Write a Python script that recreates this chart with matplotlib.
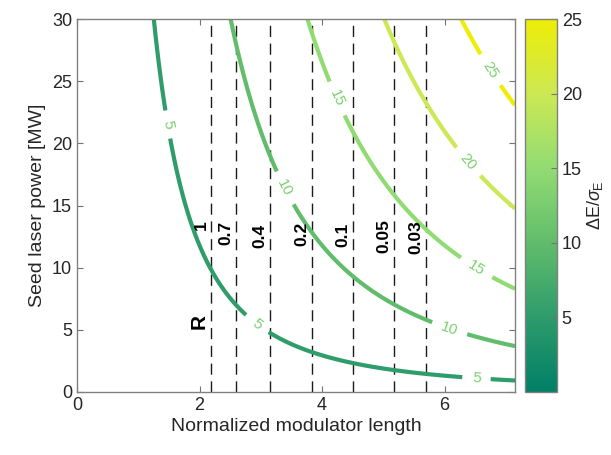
import numpy as np
import matplotlib
matplotlib.use("Agg")
import matplotlib.pyplot as plt
from matplotlib.colors import Normalize, LinearSegmentedColormap
from matplotlib.cm import ScalarMappable

plt.rcParams['font.family'] = ['Liberation Sans', 'DejaVu Sans']
plt.rcParams['mathtext.fontset'] = 'custom'
plt.rcParams['mathtext.rm'] = 'Liberation Sans'
plt.rcParams['mathtext.it'] = 'Liberation Sans:italic'

# Parameter ranges
length_max = 7.15          # normalized modulator length
power_max = 30.0           # seed laser power [MW]
gain_coeff = 0.728         # dE/sigma_E per (unit length * sqrt(MW))

# Contour levels of dE/sigma_E
levels = [5, 10, 15, 20, 25]
color_range = (0, 25)

# Reflectivity R markers along the modulator length
r_labels = ['1', '0.7', '0.4', '0.2', '0.1', '0.05', '0.03']
r_lengths = [2.19, 2.59, 3.15, 3.83, 4.50, 5.17, 5.70]
r_label_y = [13.4, 12.76, 12.56, 12.7, 12.63, 12.55, 12.47]

# Where the contour values are written
contour_label_pos = [(1.46, 21.5), (2.95, 5.55), (6.52, 1.1),
                     (3.39, 16.4), (6.08, 5.1),
                     (4.24, 23.6), (6.52, 10.0),
                     (6.38, 18.5), (6.74, 25.9)]

x_ticks = [0, 2, 4, 6]
y_ticks = [0, 5, 10, 15, 20, 25, 30]
cb_ticks = [5, 10, 15, 20, 25]

# Teal -> green -> yellow colour scale
cmap = LinearSegmentedColormap.from_list('teal_yellow', [
    (0.00, (0.00, 0.50, 0.40)),
    (0.20, (0.18, 0.61, 0.42)),
    (0.40, (0.38, 0.74, 0.42)),
    (0.60, (0.57, 0.86, 0.45)),
    (0.80, (0.80, 0.91, 0.33)),
    (1.00, (0.93, 0.93, 0.02)),
])

fig = plt.figure(figsize=(6.11, 4.55), dpi=100)
ax = fig.add_axes([0.126, 0.1385, 0.717, 0.8195])
cax = fig.add_axes([0.859, 0.1385, 0.0524, 0.8195])

length = np.linspace(0, length_max, 400)
power = np.linspace(0, power_max, 400)
L, P = np.meshgrid(length, power)
gain = gain_coeff * L * np.sqrt(P)

norm = Normalize(*color_range)

# Reflectivity markers
for xr in r_lengths:
    ax.plot([xr, xr], [0, power_max], color='0.1', lw=1.0,
            dashes=(8.0, 4.8), zorder=1)
for lab, xr, yr in zip(r_labels, r_lengths, r_label_y):
    ax.annotate(lab, xy=(xr, yr), xytext=(-2, 0), textcoords='offset points',
                rotation=90, ha='right', va='center', fontsize=12.5,
                fontweight='bold', color='k')
ax.text(2.0, 5.65, 'R', rotation=90, ha='center', va='center',
        fontsize=15, fontweight='bold', color='k')

cs = ax.contour(L, P, gain, levels=levels, cmap=cmap, norm=norm,
                linewidths=3, zorder=2)
ax.clabel(cs, manual=contour_label_pos, inline=True, fmt='%d',
          fontsize=11, colors=[(0.47, 0.82, 0.42)], inline_spacing=10)

ax.set_xlim(0, length_max)
ax.set_ylim(0, power_max)
ax.set_xticks(x_ticks)
ax.set_yticks(y_ticks)
ax.tick_params(direction='in', length=4, width=0.8, colors='0.45',
               labelcolor='0.15', labelsize=13, top=True, right=True)
for s in ax.spines.values():
    s.set_color('0.5')
    s.set_linewidth(1.0)
ax.set_xlabel('Normalized modulator length', fontsize=14, color='0.15',
              labelpad=3)
ax.set_ylabel('Seed laser power [MW]', fontsize=14, color='0.15',
              labelpad=4)

cb = fig.colorbar(ScalarMappable(norm=norm, cmap=cmap), cax=cax)
cb.set_ticks(cb_ticks)
cb.outline.set_edgecolor('0.5')
cb.outline.set_linewidth(1.0)
cax.tick_params(direction='in', length=4, width=0.8, colors='0.45',
                labelcolor='0.15', labelsize=13)
cb.set_label(r'$\Delta$E/$\sigma_{\mathrm{E}}$', fontsize=13, color='0.15',
             labelpad=2)

fig.savefig('out.png', dpi=100)
